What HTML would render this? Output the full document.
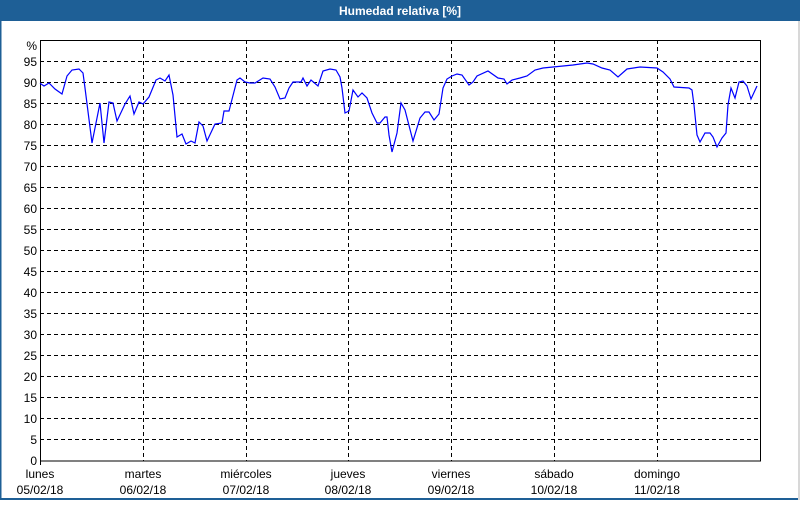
<!DOCTYPE html>
<html><head><meta charset="utf-8"><style>
body{margin:0;background:#fff;}
svg text{font-family:"Liberation Sans",sans-serif;font-size:12px;fill:#000;}
</style></head><body>
<svg width="800" height="500" xmlns="http://www.w3.org/2000/svg">
<rect x="0" y="0" width="800" height="500" fill="#fff"/>
<rect x="0" y="0" width="800" height="21" fill="#1e5f96"/>
<rect x="0" y="0" width="1.5" height="500" fill="#1e5f96"/>
<rect x="0" y="498" width="800" height="2" fill="#1e5f96"/>
<rect x="798" y="21" width="2" height="479" fill="#d8d8d8"/>
<text x="400" y="15" text-anchor="middle" style="fill:#fff;font-weight:bold;font-size:12px">Humedad relativa [%]</text>
<g stroke="#000" stroke-dasharray="4,3" stroke-width="1">
<line x1="40" x2="760" y1="61.5" y2="61.5"/><line x1="40" x2="760" y1="82.5" y2="82.5"/><line x1="40" x2="760" y1="103.5" y2="103.5"/><line x1="40" x2="760" y1="124.5" y2="124.5"/><line x1="40" x2="760" y1="145.5" y2="145.5"/><line x1="40" x2="760" y1="166.5" y2="166.5"/><line x1="40" x2="760" y1="187.5" y2="187.5"/><line x1="40" x2="760" y1="208.5" y2="208.5"/><line x1="40" x2="760" y1="229.5" y2="229.5"/><line x1="40" x2="760" y1="250.5" y2="250.5"/><line x1="40" x2="760" y1="271.5" y2="271.5"/><line x1="40" x2="760" y1="292.5" y2="292.5"/><line x1="40" x2="760" y1="313.5" y2="313.5"/><line x1="40" x2="760" y1="334.5" y2="334.5"/><line x1="40" x2="760" y1="355.5" y2="355.5"/><line x1="40" x2="760" y1="376.5" y2="376.5"/><line x1="40" x2="760" y1="397.5" y2="397.5"/><line x1="40" x2="760" y1="418.5" y2="418.5"/><line x1="40" x2="760" y1="439.5" y2="439.5"/>
<line x1="143.5" x2="143.5" y1="40" y2="461"/><line x1="246.5" x2="246.5" y1="40" y2="461"/><line x1="348.5" x2="348.5" y1="40" y2="461"/><line x1="451.5" x2="451.5" y1="40" y2="461"/><line x1="554.5" x2="554.5" y1="40" y2="461"/><line x1="657.5" x2="657.5" y1="40" y2="461"/>
</g>
<rect x="40.5" y="40.5" width="720" height="420.5" fill="none" stroke="#000" stroke-width="1"/>
<line x1="40.5" x2="40.5" y1="461" y2="465" stroke="#000"/>
<g text-anchor="end">
<text x="37" y="50">%</text>
<text x="37" y="66">95</text><text x="37" y="87">90</text><text x="37" y="108">85</text><text x="37" y="129">80</text><text x="37" y="150">75</text><text x="37" y="171">70</text><text x="37" y="192">65</text><text x="37" y="213">60</text><text x="37" y="234">55</text><text x="37" y="255">50</text><text x="37" y="276">45</text><text x="37" y="297">40</text><text x="37" y="318">35</text><text x="37" y="339">30</text><text x="37" y="360">25</text><text x="37" y="381">20</text><text x="37" y="402">15</text><text x="37" y="423">10</text><text x="37" y="444">5</text><text x="37" y="465">0</text>
</g>
<g text-anchor="middle">
<text x="40" y="478">lunes</text><text x="40" y="494">05/02/18</text>
<text x="143" y="478">martes</text><text x="143" y="494">06/02/18</text>
<text x="246" y="478">miércoles</text><text x="246" y="494">07/02/18</text>
<text x="348" y="478">jueves</text><text x="348" y="494">08/02/18</text>
<text x="451" y="478">viernes</text><text x="451" y="494">09/02/18</text>
<text x="554" y="478">sábado</text><text x="554" y="494">10/02/18</text>
<text x="657" y="478">domingo</text><text x="657" y="494">11/02/18</text>
</g>
<polyline fill="none" stroke="#0000ff" stroke-width="1.2" points="40,83.3 44,86 49,83 55,89 62,94 67,76 72,70 79,69 83,73 85,88 92,143 100,103 104,143 109,102 113,103 117,121 125,104 130,96 134,114 139,102 143,104 149,97 156,80 160,78 165,81 169,75 173,95 177,137 182,134 186,144 191,141 195,143 199,122 203,126 207,141 215,124 222,123 224,111 229,111 237,80 240,78 245,82 250,83 255,83 263,78 270,79 275,87 280,99 285,98 289,88 293,82 301,82 303,78 307,86 311,80 318,86 323,71 330,69 336,70 340,77 342,88 345,113 349,111 353,90 358,97 362,93 367,98 372,113 377,123 380,123 385,117 387,117 389,135 392,152 397,133 401,103 405,110 413,141 420,118 425,112 429,112 434,120 439,114 443,88 447,79 452,76 457,74 462,75 469,85 473,82 477,76 488,71 498,78 504,79 507,84 512,80 520,78 527,76 535,70 543,68 553,67 573,65 587,63 593,64 602,68 610,70 618,77 627,69 640,67 657,68 663,72 670,79 674,87 689,88 692,90 694,105 697,135 700,142 705,133 710,133 713,137 717,147 722,138 726,133 728,105 731,88 735,98 739,82 743,81 747,86 751,99 757,86"/>
</svg>
</body></html>
